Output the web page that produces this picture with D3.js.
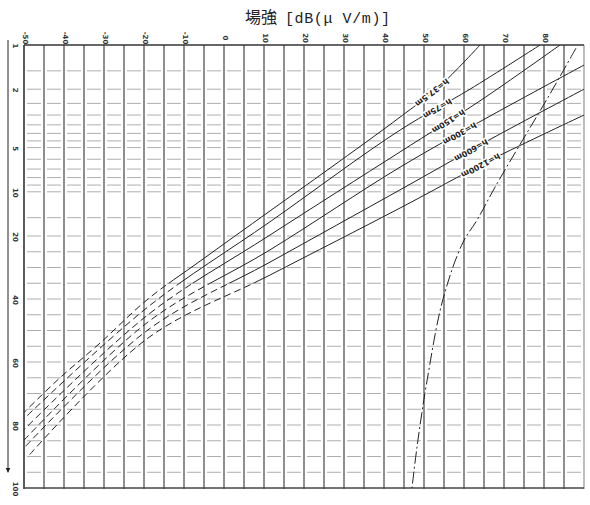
<!DOCTYPE html>
<html>
<head>
<meta charset="utf-8">
<script src="https://cdn.jsdelivr.net/npm/d3@7"></script>
<style>
  body { margin: 0; background: #fff; }
  svg { display: block; }
</style>
</head>
<body>
<div id="chart"></div>
<script>
// field strength axis (top), dB(uV/m)
let fieldTicks = [-50, -40, -30, -20, -10, 0, 10, 20, 30, 40, 50, 60, 70, 80];
let fieldGrid = d3.range(-50, 91, 5);

// distance axis (left), km: log up to 20 km, linear beyond
let distTicks = [1, 2, 5, 10, 20, 40, 60, 80, 100];
let distGrid = [1.5, 2, 2.5, 3, 3.5, 4, 4.5, 5, 6, 7, 8, 9, 10, 15, 20, 25, 30, 35, 40, 45, 50,
                55, 60, 65, 70, 75, 80, 85, 90, 95];

// curves: [km, dB(uV/m)]
let curve1 = [[1, 64], [1.9, 54], [3.1, 44], [6.9, 26.5], [13.5, 11.5], [28, -6], [40, -19], [54, -31], [65, -41], [76, -50]];
let curve2 = [[1, 79], [2, 61.5], [3.8, 44], [16, 11.5], [42.5, -19], [78, -50]];
let curve3 = [[1, 84], [2.4, 64], [5.35, 44], [19.7, 11.5], [45, -19], [81.5, -50]];
let curve4 = [[1.37, 90], [3.05, 66.5], [6.8, 44], [24.4, 11.5], [47.3, -19], [84.8, -50]];
let curve5 = [[2, 90], [4.4, 66.5], [9.7, 44], [28.3, 11.5], [49.8, -19], [87.3, -50]];
let curve6 = [[3, 90], [6.1, 66.5], [12.9, 44], [32.4, 11.5], [52.4, -19], [90, -49]];
let steepCurve = [[1.05, 88], [1.55, 84.5], [2.6, 79.75], [4.4, 74.75], [9.3, 67.75], [15.6, 63.25],
                  [22, 59.75], [40, 54.75], [66, 50.75], [87, 48.25], [100, 47]];

let curveLabels = ["h=37.5m", "h=75m", "h=150m", "h=300m", "h=600m", "h=1200m"];
let labelDist = [2.1, 2.7, 3.3, 4.0, 5.2, 6.6];

let width = 590,
    height = 505,
    padLeft = 24,
    padRight = 584,
    padTop = 45,
    padBottom = 488;

function createGraph() {
    const xScale = d3.scaleLinear().domain([-50, 90]).range([padLeft, padRight]);

    // piecewise distance scale
    const yLog = d3.scaleLog().domain([1, 20]).range([padTop, 236]);
    const yLin = d3.scaleLinear().domain([20, 100]).range([236, padBottom]);
    const yScale = d => d <= 20 ? yLog(d) : yLin(d);

    const svg = d3.select("#chart")
        .append("svg")
        .attr("width", width)
        .attr("height", height);

    const defs = svg.append("defs");

    // title
    const title = svg.append("text")
        .attr("x", 245)
        .attr("y", 23)
        .style("fill", "#222");
    title.append("tspan")
        .style("font-family", "'Noto Sans CJK JP'")
        .style("font-size", "16px")
        .text("場強");
    title.append("tspan")
        .style("font-family", "'Liberation Mono', monospace")
        .style("font-size", "15px")
        .style("letter-spacing", "0.6px")
        .attr("dx", 8)
        .text("[dB(μ V/m)]");

    // horizontal dashed grid
    svg.append("g")
        .selectAll("line")
        .data(distGrid)
        .enter()
        .append("line")
        .attr("x1", padLeft + 3)
        .attr("x2", padRight - 2)
        .attr("y1", d => yScale(d))
        .attr("y2", d => yScale(d))
        .style("stroke", "#999")
        .style("stroke-width", 0.8)
        .style("stroke-dasharray", "14,6");

    // vertical grid
    svg.append("g")
        .selectAll("line")
        .data(fieldGrid)
        .enter()
        .append("line")
        .attr("x1", d => xScale(d))
        .attr("x2", d => xScale(d))
        .attr("y1", padTop)
        .attr("y2", padBottom + 1)
        .style("stroke", (d, i) => i === fieldGrid.length - 1 ? "#888" : "#333")
        .style("stroke-width", (d, i) => i === 0 ? 1.6 : 1.1);

    // frame top / bottom
    svg.append("line")
        .attr("x1", padLeft).attr("x2", padRight)
        .attr("y1", yScale(1)).attr("y2", yScale(1))
        .style("stroke", "#333").style("stroke-width", 1.3);
    svg.append("line")
        .attr("x1", padLeft).attr("x2", padRight)
        .attr("y1", yScale(100)).attr("y2", yScale(100))
        .style("stroke", "#444").style("stroke-width", 1.3);

    // top tick labels (rotated)
    svg.append("g")
        .selectAll("text")
        .data(fieldTicks)
        .enter()
        .append("text")
        .attr("transform", d => "translate(" + (xScale(d) + 1) + "," + 38 + ") rotate(90)")
        .attr("text-anchor", "middle")
        .attr("dominant-baseline", "central")
        .style("font-family", "'DejaVu Sans'")
        .style("font-size", "7px")
        .style("font-weight", "bold")
        .style("fill", "#333")
        .text(d => d);

    // left tick labels (rotated)
    svg.append("g")
        .selectAll("text")
        .data(distTicks)
        .enter()
        .append("text")
        .attr("transform", d => "translate(15," + (yScale(d) + 1) + ") rotate(90)")
        .attr("text-anchor", "middle")
        .attr("dominant-baseline", "central")
        .style("font-family", "'DejaVu Sans'")
        .style("font-size", "7px")
        .style("font-weight", "bold")
        .style("fill", "#333")
        .text(d => d);

    // distance arrow
    defs.append("marker")
        .attr("id", "arrow")
        .attr("viewBox", "0 0 10 10")
        .attr("refX", 9).attr("refY", 5)
        .attr("markerWidth", 5).attr("markerHeight", 6)
        .attr("orient", "auto")
        .append("path")
        .attr("d", "M0,0 L10,5 L0,10 z")
        .style("fill", "#222");
    svg.append("line")
        .attr("x1", 8).attr("x2", 8)
        .attr("y1", yScale(1) - 5).attr("y2", yScale(95))
        .style("stroke", "#222").style("stroke-width", 1)
        .attr("marker-end", "url(#arrow)");

    // clip regions: solid near, dashed far
    const split = yScale(35);
    defs.append("clipPath").attr("id", "near")
        .append("rect").attr("x", padLeft).attr("y", padTop).attr("width", padRight - padLeft).attr("height", split - padTop);
    defs.append("clipPath").attr("id", "far")
        .append("rect").attr("x", padLeft).attr("y", split).attr("width", padRight - padLeft).attr("height", padBottom - split);
    defs.append("clipPath").attr("id", "frame")
        .append("rect").attr("x", padLeft).attr("y", padTop).attr("width", padRight - padLeft).attr("height", padBottom - padTop);

    const line = d3.line()
        .x(d => xScale(d[1]))
        .y(d => yScale(d[0]))
        .curve(d3.curveCatmullRom);

    const curves = [curve1, curve2, curve3, curve4, curve5, curve6];

    const inner = svg.append("g");

    curves.forEach(c => {
        inner.append("path")
            .datum(c)
            .attr("d", line)
            .attr("clip-path", "url(#near)")
            .style("fill", "none")
            .style("stroke", "#222")
            .style("stroke-width", 1);
        inner.append("path")
            .datum(c)
            .attr("d", line)
            .attr("clip-path", "url(#far)")
            .style("fill", "none")
            .style("stroke", "#222")
            .style("stroke-width", 1)
            .style("stroke-dasharray", "7,4");
    });

    inner.append("path")
        .datum(steepCurve)
        .attr("d", line)
        .attr("clip-path", "url(#frame)")
        .style("fill", "none")
        .style("stroke", "#222")
        .style("stroke-width", 1)
        .style("stroke-dasharray", "12,3,2,3");

    // curve labels, placed on each curve (scan shows them upside down)
    curves.forEach((c, i) => {
        const dd = labelDist[i];
        let k = 0;
        while (k < c.length - 2 && c[k + 1][0] < dd) k++;
        const p0 = [xScale(c[k][1]), yScale(c[k][0])];
        const p1 = [xScale(c[k + 1][1]), yScale(c[k + 1][0])];
        const t = (yScale(dd) - p0[1]) / (p1[1] - p0[1]);
        const px = p0[0] + t * (p1[0] - p0[0]);
        const py = p0[1] + t * (p1[1] - p0[1]);
        const ang = Math.atan2(p1[1] - p0[1], p1[0] - p0[0]) * 180 / Math.PI;
        svg.append("text")
            .attr("transform", "translate(" + px + "," + py + ") rotate(" + ang + ")")
            .attr("text-anchor", "middle")
            .attr("dominant-baseline", "central")
            .style("font-family", "'DejaVu Sans'")
            .style("font-size", "8px")
            .style("font-weight", "bold")
            .style("fill", "#222")
            .style("stroke", "#fff")
            .style("stroke-width", 3)
            .style("paint-order", "stroke")
            .text(curveLabels[i]);
    });
}

document.addEventListener('DOMContentLoaded', function (e) {
    createGraph();
});
</script>
</body>
</html>
